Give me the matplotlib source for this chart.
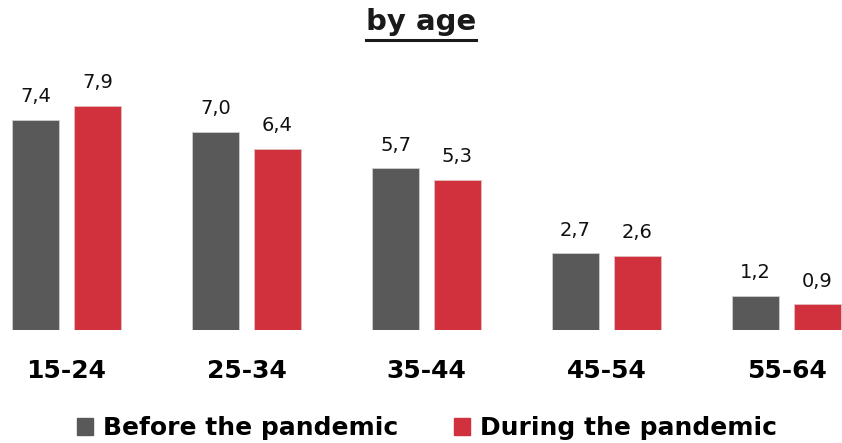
import numpy as np
import matplotlib.pyplot as plt
from matplotlib.lines import Line2D
from matplotlib.patches import Patch

# data
age_groups = ["15-24", "25-34", "35-44", "45-54", "55-64"]
before = [7.4, 7.0, 5.7, 2.7, 1.2]
during = [7.9, 6.4, 5.3, 2.6, 0.9]
series_names = ["Before the pandemic", "During the pandemic"]

gray = "#595959"
red = "#D0313D"

fig = plt.figure(figsize=(8.42, 4.43), dpi=100)
ax = fig.add_axes([0, 113 / 443, 1, 280 / 443])

ind = np.arange(len(age_groups))
width = 0.261
off = 0.172

rects_b = ax.bar(ind - off, before, width, color=gray, edgecolor="#d0d0d0", linewidth=0.6)
rects_d = ax.bar(ind + off, during, width, color=red, edgecolor="#e0c0c0", linewidth=0.6)


def autolabel(rects):
    for rect in rects:
        h = rect.get_height()
        ax.annotate(("%.1f" % h).replace(".", ","),
                    xy=(rect.get_x() + rect.get_width() / 2., h),
                    xytext=(0, 10), textcoords="offset points",
                    ha="center", va="bottom", fontsize=14, color="#111111")


autolabel(rects_b)
autolabel(rects_d)

ax.set_xlim(-0.369, 4.308)
ax.set_ylim(0, 9.88)
ax.set_xticks(ind)
ax.set_xticklabels(age_groups, fontsize=18, fontweight="bold")
ax.tick_params(axis="x", length=0, pad=21)
ax.set_yticks([])
for s in ax.spines.values():
    s.set_visible(False)

# title with underline
title = fig.text(0.5, 1 - 22 / 443, "by age", ha="center", va="center",
                 fontsize=21, fontweight="bold", color="#1a1a1a")
fig.canvas.draw()
bb = title.get_window_extent().transformed(fig.transFigure.inverted())
fig.add_artist(Line2D([bb.x0, bb.x1], [1 - 40 / 443] * 2, transform=fig.transFigure,
                      color="#1a1a1a", linewidth=2.2))

handles = [Patch(color=gray), Patch(color=red)]
fig.legend(handles, series_names, loc="center", bbox_to_anchor=(0.507, 15 / 443),
           ncol=2, frameon=False, handlelength=0.65, handleheight=0.65,
           handletextpad=0.4, columnspacing=2.2,
           prop={"weight": "bold", "size": 18})

fig.savefig("out.png", dpi=100)
